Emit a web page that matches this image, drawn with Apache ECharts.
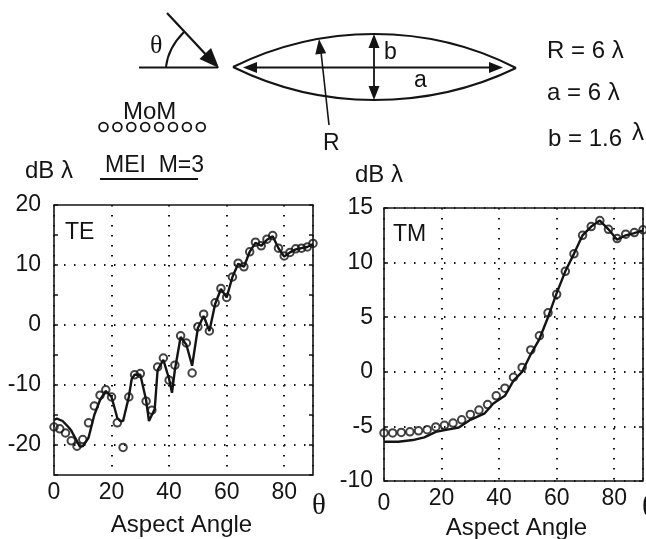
<!DOCTYPE html>
<html><head><meta charset="utf-8">
<style>html,body{margin:0;padding:0;background:#fff}#c{width:646px;height:539px}</style>
<script src="https://cdn.jsdelivr.net/npm/echarts@6/dist/echarts.min.js"></script>
</head><body><div id="c"></div>
<script>
const teMomAngles=[0,2,4,6,8,10,12,14,16,18,20,22,24,26,28,30,32,34,36,38,40,42,44,46,48,50,52,54,56,58,60,62,64,66,68,70,72,74,76,78,80,82,84,86,88,90];
const teMomValues=[-17,-17.3,-18,-19.3,-20.2,-19.1,-16.3,-13.5,-11.7,-10.8,-12,-16.3,-20.4,-12,-8.3,-8.1,-12.7,-14.2,-7,-5.5,-9.2,-6.7,-1.8,-3,-8,-0.3,1.8,-1,3.7,6.1,4.6,8,10.3,9.7,12.2,13.8,13.2,14.3,14.9,12.8,11.5,12.1,12.7,12.8,13,13.6];
const teMeiAngles=[0,1,3,5,6,8,9,10,12,14,16,18,20,22,23,24,26,27,28,30,32,33,35,36,38,40,41,42,44,46,48,50,52,54,56,58,60,62,64,66,68,70,72,74,76,78,80,82,84,86,88,90];
const teMeiValues=[-15.8,-15.6,-16,-17,-17.6,-19.4,-20.3,-20.2,-18.8,-15,-12.5,-11,-12,-15.5,-16,-16,-12,-9,-8.3,-8.3,-12.5,-16,-14,-7.5,-5.8,-9,-11.3,-7.5,-2,-3.3,-6.8,-0.5,1.5,-1,3.5,6,4.6,8,10.2,9.7,12.2,13.7,13.2,14.2,14.8,12.8,11.4,12.1,12.6,12.8,13,13.5];
const tmMomAngles=[0,3,6,9,12,15,18,21,24,27,30,33,36,39,42,45,48,51,54,57,60,63,66,69,72,75,78,81,84,87,90];
const tmMomValues=[-5.6,-5.6,-5.55,-5.5,-5.4,-5.3,-5.05,-4.9,-4.7,-4.4,-3.9,-3.5,-3,-2.2,-1.5,-0.5,0.4,2,3.3,5.4,7.1,9.2,10.8,12.5,13.3,13.85,13.05,12.2,12.6,12.75,13];
const tmMeiAngles=[0,5,10,14,18,22,26,30,35,38,42,45,48,51,54,57,60,63,66,69,72,75,78,81,84,87,90];
const tmMeiValues=[-6.4,-6.4,-6.25,-6,-5.5,-5.3,-5.1,-4.4,-3.8,-2.9,-2.2,-0.8,0,1.6,3,5,7.2,9.2,10.8,12.5,13.3,13.85,13.05,12.1,12.5,12.7,12.95];
const teYLabels=[-20,-10,0,10,20];
const tmYLabels=[-10,-5,0,5,10,15];
const teGridValues=[-20,-10,0,10];
const xTickLabels=[0,20,40,60,80];

const ink='#141414', sans='"Liberation Sans",Arial,sans-serif';
const zip=(a,b)=>a.map((x,i)=>[x,b[i]]);
const dotted={color:ink,width:2,type:[1.5,8.5]};

function xAxis(gridIndex,gap,namePad,lowZero){return {
  type:'value',gridIndex,min:0,max:90,interval:20,
  name:'Aspect Angle',nameLocation:'middle',nameGap:gap,nameMoveOverlap:false,
  nameTextStyle:{fontFamily:sans,fontSize:24,color:ink,padding:namePad},
  axisLine:{show:false},axisTick:{show:false},
  axisLabel:{show:true,customValues:xTickLabels,fontFamily:sans,fontSize:23,color:ink,margin:6,
    formatter:v=>(lowZero&&v===0)?'{low|0}':String(v),
    rich:{low:{fontFamily:sans,fontSize:23,color:ink,padding:[5,0,0,0]}}},
  splitLine:{show:true,lineStyle:dotted}
};}
function yAxis(gridIndex,min,max,labels,split,margin){return [{
  type:'value',gridIndex,min,max,interval:5,position:'left',
  axisLine:{show:false},axisTick:{show:true,inside:true,length:4,lineStyle:{color:ink,width:1.5}},
  axisLabel:{customValues:labels,fontFamily:sans,fontSize:23,color:ink,margin,formatter:v=>String(v)},
  splitLine:{show:split,lineStyle:dotted}
},{
  type:'value',gridIndex,min,max,interval:5,position:'right',
  axisLine:{show:false},axisTick:{show:true,inside:true,length:4,lineStyle:{color:ink,width:1.5}},
  axisLabel:{show:false},splitLine:{show:false}
}];}
function momSeries(xi,yi,a,v){return {
  type:'scatter',xAxisIndex:xi,yAxisIndex:yi,data:zip(a,v),clip:false,symbol:'circle',symbolSize:7.5,
  itemStyle:{color:'rgba(255,255,255,0)',borderColor:ink,borderWidth:2},z:4
};}
function meiSeries(xi,yi,a,v,extra){return Object.assign({
  type:'line',xAxisIndex:xi,yAxisIndex:yi,data:zip(a,v),showSymbol:false,clip:false,
  lineStyle:{color:ink,width:2.4},z:3
},extra||{});}

function T(text,x,y,size,extra){return {type:'text',x,y,z:20,style:Object.assign({text,fill:ink,font:`${size}px ${sans}`,textVerticalAlign:'middle'},extra||{})};}
function L(x1,y1,x2,y2,w){return {type:'line',z:20,shape:{x1,y1,x2,y2},style:{stroke:ink,lineWidth:w||2}};}
function head(tx,ty,fx,fy,len,half){
  const d=Math.hypot(tx-fx,ty-fy),ux=(tx-fx)/d,uy=(ty-fy)/d,bx=tx-ux*len,by=ty-uy*len;
  return {type:'polygon',z:20,shape:{points:[[tx,ty],[bx-uy*half,by+ux*half],[bx+uy*half,by-ux*half]]},style:{fill:ink}};
}
function curve(x1,y1,cx,cy,x2,y2){return {type:'bezierCurve',z:20,shape:{x1,y1,cpx1:cx,cpy1:cy,x2,y2},style:{stroke:ink,lineWidth:2,fill:null}};}

const legendDots=[0,1,2,3,4,5,6,7].map(i=>({type:'circle',z:20,shape:{cx:103.5+i*13.9,cy:127,r:4.4},style:{fill:'#fff',stroke:ink,lineWidth:1.8}}));
const serif='"Liberation Serif",serif';

const graphic=[
  L(139,67.5,218,67.5,1.8),L(167,13,210,59,2.2),head(219,68,167,13,20,8),
  curve(166,67,168,48,184,32),
  T('θ',150,46,26,{font:`26px ${serif}`}),
  curve(233,67,300,34,374,34),curve(374,34,450,34,516,68),
  curve(233,67,300,100,374,100),curve(374,100,450,100,516,68),
  L(250,67.5,495,67.5,2.2),head(243,67.5,270,67.5,14,5.5),head(503,67.5,480,67.5,14,5.5),
  L(374,40,374,95,1.8),head(374,34,374,60,14,5.5),head(374,100,374,75,14,5.5),
  L(329,125,321,52,1.6),head(319,39,329,125,15,5.5),
  T('b',384,53,23),T('a',414,81,23),T('R',323,144,23),
  T('R = 6 λ',547,51,24),T('a = 6 λ',547,93,24),T('b = 1.6',548,139,24),T('λ',632,133,24),
  T('MoM',123,112,24),...legendDots,
  T('MEI  M=3',105,166,23),L(100,179,198,179,1.8),
  T('dB λ',25,171,24),T('dB λ',355,175,24),
  T('TE',65,233,23),T('TM',393,235,23),
  T('θ',312,506,29,{font:`29px ${serif}`}),
  T('θ',642,508,29,{font:`29px ${serif}`})
];

const y0=yAxis(0,-25,20,teYLabels,false,13), y1=yAxis(1,-10,15,tmYLabels,true,11);
const option={
  animation:false,backgroundColor:'#fff',
  grid:[
    {left:54,top:205,width:259,height:270,outerBoundsMode:'none',show:true,borderColor:ink,borderWidth:1.6,backgroundColor:'transparent'},
    {left:384,top:208,width:259,height:273,outerBoundsMode:'none',show:true,borderColor:ink,borderWidth:1.6,backgroundColor:'transparent'}
  ],
  xAxis:[xAxis(0,38,[0,4,0,0],false),xAxis(1,35,[0,0,0,6],true)],
  yAxis:[...y0,...y1],
  series:[
    meiSeries(0,0,teMeiAngles,teMeiValues,{markLine:{silent:true,symbol:'none',label:{show:false},animation:false,lineStyle:dotted,data:teGridValues.map(v=>({yAxis:v}))}}),
    momSeries(0,0,teMomAngles,teMomValues),
    meiSeries(1,2,tmMeiAngles,tmMeiValues),
    momSeries(1,2,tmMomAngles,tmMomValues)
  ],
  graphic
};
echarts.init(document.getElementById('c'),null,{renderer:'canvas'}).setOption(option);
</script></body></html>
